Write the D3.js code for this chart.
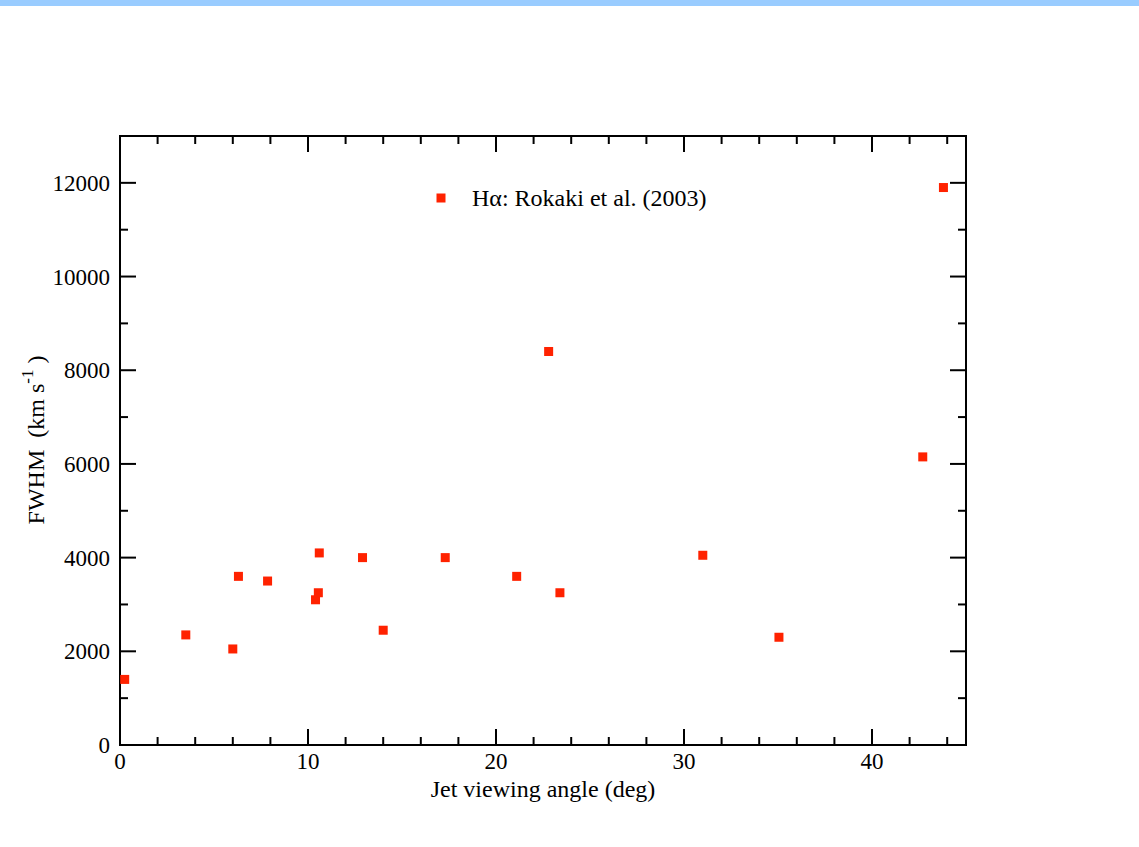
<!DOCTYPE html>
<html><head><meta charset="utf-8">
<script src="https://cdn.jsdelivr.net/npm/d3@7"></script>
<style>body{margin:0;background:#fff} text{white-space:pre}</style>
</head><body>
<script>
const angle = [0.25,3.5,6.0,6.3,7.85,10.4,10.55,10.6,12.9,14.0,17.3,21.1,23.4,22.8,31.0,35.05,42.7,43.8];
const fwhm  = [1400,2350,2050,3600,3500,3100,3250,4100,4000,2450,4000,3600,3250,8400,4050,2300,6150,11900];
const xTicks = [0,10,20,30,40];
const yTicks = [0,2000,4000,6000,8000,10000,12000];
const legendLabel = "Hα: Rokaki et al. (2003)";

const W=1139,H=847;
const svg=d3.select("body").append("svg").attr("width",W).attr("height",H);
svg.append("rect").attr("x",0).attr("y",0).attr("width",W).attr("height",6).attr("fill","#99ccff");

const L=120,R=966,T=136,B=745;
const x=d3.scaleLinear().domain([0,45]).range([L,R]);
const y=d3.scaleLinear().domain([0,13000]).range([B,T]);
const font="'Liberation Serif','Times New Roman',serif";

const g=svg.append("g");
const xMinor=d3.range(0,46,2).filter(v=>v%10!==0);
const yMinor=d3.range(1000,13001,2000);
function tick(x1,y1,x2,y2){g.append("line").attr("x1",x1).attr("y1",y1).attr("x2",x2).attr("y2",y2).attr("stroke","#000").attr("stroke-width",2);}
xTicks.forEach(v=>{tick(x(v),B,x(v),B-16);tick(x(v),T,x(v),T+16);});
xMinor.forEach(v=>{tick(x(v),B,x(v),B-8);tick(x(v),T,x(v),T+8);});
yTicks.forEach(v=>{tick(L,y(v),L+16,y(v));tick(R,y(v),R-16,y(v));});
yMinor.forEach(v=>{tick(L,y(v),L+8,y(v));tick(R,y(v),R-8,y(v));});
g.append("rect").attr("x",L).attr("y",T).attr("width",R-L).attr("height",B-T).attr("fill","none").attr("stroke","#000").attr("stroke-width",2);

xTicks.forEach(v=>{svg.append("text").attr("x",x(v)).attr("y",B+24).attr("text-anchor","middle").attr("font-family",font).attr("font-size",23).text(v);});
yTicks.forEach(v=>{svg.append("text").attr("x",L-10).attr("y",y(v)+8).attr("text-anchor","end").attr("font-family",font).attr("font-size",23).text(v);});

svg.append("text").attr("x",543).attr("y",797).attr("text-anchor","middle").attr("font-family",font).attr("font-size",24).text("Jet viewing angle (deg)");
const yl=svg.append("text").attr("transform","translate(44,440) rotate(-90)").attr("text-anchor","middle").attr("font-family",font).attr("font-size",24);
yl.append("tspan").text("FWHM  (km s");
yl.append("tspan").attr("dy",-11).attr("font-size",17).text("-1");
yl.append("tspan").attr("dy",11).text(" )");

const sz=9;
svg.append("g").selectAll("rect").data(angle.map((a,i)=>[a,fwhm[i]])).join("rect")
 .attr("x",d=>x(d[0])-sz/2).attr("y",d=>y(d[1])-sz/2).attr("width",sz).attr("height",sz).attr("fill","#ff2200");

svg.append("rect").attr("x",441-sz/2).attr("y",198-sz/2).attr("width",sz).attr("height",sz).attr("fill","#ff2200");
svg.append("text").attr("x",472).attr("y",206).attr("font-family",font).attr("font-size",24).text(legendLabel);
</script>
</body></html>
